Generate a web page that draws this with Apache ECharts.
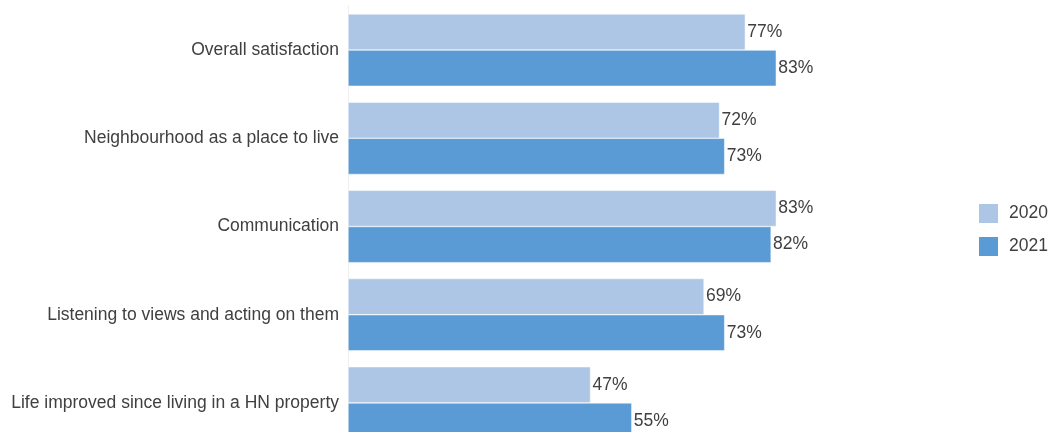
<!DOCTYPE html>
<html>
<head>
<meta charset="UTF-8">
<title>Satisfaction 2020 vs 2021</title>
<script src="https://cdn.jsdelivr.net/npm/echarts@6/dist/echarts.min.js"></script>
<style>
  html, body { margin: 0; padding: 0; background: #fff; }
  #chart { width: 1048px; height: 432px; }
</style>
</head>
<body>
<div id="chart"></div>
<script type="text/javascript">
var categories = [
  'Overall satisfaction',
  'Neighbourhood as a place to live',
  'Communication',
  'Listening to views and acting on them',
  'Life improved since living in a HN property'
];
var seriesNames = ['2020', '2021'];
var values2020 = [77, 72, 83, 69, 47];
var values2021 = [83, 73, 82, 73, 55];

var chart = echarts.init(document.getElementById('chart'));
var textColor = '#404040';
var fontSize = 17.5;

function barSeries(name, data, color) {
  return {
    name: name,
    type: 'bar',
    data: data,
    barGap: '0%',
    barCategoryGap: '18%',
    itemStyle: { color: color, borderColor: '#fff', borderWidth: 0.5 },
    label: {
      show: true,
      position: 'right',
      distance: 2,
      formatter: '{c}%',
      color: textColor,
      fontSize: fontSize
    },
    animation: false
  };
}

var option = {
  animation: false,
  textStyle: { fontFamily: 'Liberation Sans, Arial, sans-serif' },
  grid: { left: 348, top: 6, width: 516, height: 441, containLabel: false, outerBoundsMode: 'none' },
  legend: {
    orient: 'vertical',
    left: 977,
    top: 202,
    padding: 0,
    itemWidth: 21,
    itemHeight: 21,
    itemGap: 10,
    icon: 'rect',
    textStyle: { color: textColor, fontSize: fontSize, padding: [0, 0, 0, 5] },
    data: seriesNames
  },
  xAxis: {
    type: 'value',
    min: 0,
    max: 100,
    show: false
  },
  yAxis: {
    type: 'category',
    inverse: true,
    data: categories,
    axisLine: { show: true, lineStyle: { color: '#eeeeee', width: 1 } },
    axisTick: { show: false },
    axisLabel: { color: textColor, fontSize: fontSize, margin: 9 }
  },
  series: [
    barSeries(seriesNames[0], values2020, '#adc6e6'),
    barSeries(seriesNames[1], values2021, '#5b9bd5')
  ]
};
chart.setOption(option);
</script>
</body>
</html>
